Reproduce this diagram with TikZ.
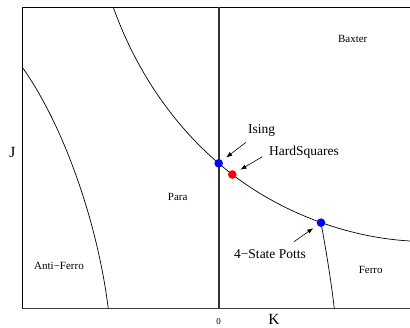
\documentclass[tikz,border=0pt]{standalone}
\usepackage{fontspec}
\setmainfont{Liberation Serif}
\usetikzlibrary{arrows.meta}
\begin{document}
\begin{tikzpicture}[x=1pt,y=-1pt,
  phase/.style={font=\fontsize{11}{13}\selectfont},
  model/.style={font=\fontsize{13.5}{16}\selectfont},
  axislabel/.style={font=\fontsize{15.5}{18}\selectfont},
  dot/.style={circle,fill=#1,inner sep=0pt,minimum size=8.6pt},
  pointer/.style={-{Latex[length=6pt,width=4.5pt]},line width=0.6pt,shorten >=5pt}]
\useasboundingbox (0,0) rectangle (410,327);

\draw[line width=0.8pt] (410,7.3) -| (22.3,308.7);
\draw[line width=1.3pt,black!75] (22.3,308.7) -- (410,308.7);
\draw[line width=1.8pt,black!80] (218.7,7.3) -- (218.7,308.7);

\draw[line width=0.7pt] (113.3,7.3) .. controls (138.3,77.3) and (178.7,129.3) .. (218.7,163.3)
  .. controls (268.7,207) and (340,237) .. (410,241);
\draw[line width=0.7pt] (22.3,67.3) .. controls (62.9,124.2) and (97.3,220.7) .. (108.3,308.7);
\draw[line width=0.7pt] (321,222.7) .. controls (326,250) and (331,280) .. (334.3,308.7);

\node[dot=blue] (ising) at (218.7,163.3) {};
\node[dot=red] (hardsq) at (232.3,174.5) {};
\node[dot=blue] (potts) at (321,222.7) {};

\node[phase] (baxter) at (352.7,39.3) {Baxter};
\node[phase] (para) at (177.7,197.3) {Para};
\node[phase] (antiferro) at (59,265.7) {Anti−Ferro};
\node[phase] (ferro) at (370.7,270) {Ferro};

\node[model] (isinglabel) at (261.7,130) {Ising};
\node[model] (hardsqlabel) at (304,152) {HardSquares};
\node[model] (pottslabel) at (270,254) {4−State Potts};

\node[axislabel] (jlabel) at (12.3,152.3) {J};
\node[axislabel] (klabel) at (274,319) {K};
\node[font=\fontsize{9}{11}\selectfont] (zero) at (218.7,321.7) {0};

\coordinate (isingtail) at (246,142.3);
\coordinate (hardsqtail) at (262.3,156.7);
\coordinate (pottstail) at (294,241.7);
\draw[pointer] (isingtail) -- (ising);
\draw[pointer] (hardsqtail) -- (hardsq);
\draw[pointer] (pottstail) -- (potts);

\end{tikzpicture}
\end{document}
